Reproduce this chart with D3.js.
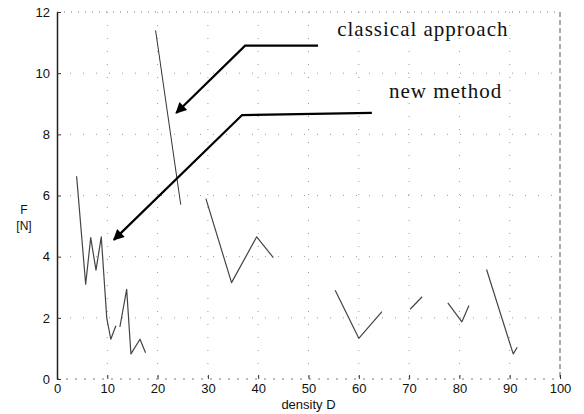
<!DOCTYPE html>
<html>
<head>
<meta charset="utf-8">
<script src="https://cdn.jsdelivr.net/npm/d3@7"></script>
<style>
  html, body { margin: 0; padding: 0; background: #fff; }
  svg { display: block; }
</style>
</head>
<body>
<svg id="chart" width="584" height="414"></svg>
<script>
/* F [N] against density D, classical approach vs new method */

const xTicks = [0, 10, 20, 30, 40, 50, 60, 70, 80, 90, 100];
const yTicks = [0, 2, 4, 6, 8, 10, 12];

// classical approach: one steep segment
const classicalD = [19.6, 24.6];
const classicalF = [11.4, 5.7];

// new method: broken trace (null = gap in the scan)
const newD = [3.9, 5.7, 6.7, 7.75, 8.8, 9.9, 10.7, 11.7, null,
              12.5, 13.85, 14.7, 16.5, 17.6, null,
              29.6, 34.7, 39.7, 43.0, null,
              55.3, 60.0, 64.6, null,
              70.2, 72.6, null,
              77.7, 80.5, 81.9, null,
              85.4, 90.7, 91.5];
const newF = [6.63, 3.1, 4.62, 3.56, 4.65, 1.98, 1.3, 1.74, null,
              1.7, 2.93, 0.82, 1.3, 0.86, null,
              5.9, 3.15, 4.65, 3.97, null,
              2.9, 1.33, 2.2, null,
              2.28, 2.69, null,
              2.49, 1.87, 2.4, null,
              3.58, 0.82, 1.04];

// annotation arrows (data units): end, elbow, tip
const arrowClassical = [[51.9, 10.9], [37.4, 10.9], [23.7, 8.7]];
const arrowNew = [[62.6, 8.7], [36.8, 8.63], [11.3, 4.55]];
const labels = [
  { text: "classical approach", d: 55.7, f: 11.2 },
  { text: "new method", d: 66.0, f: 9.2 }
];

const svg = d3.select("#chart");
const x = d3.scaleLinear().domain([0, 100]).range([57, 560]);
const y = d3.scaleLinear().domain([0, 12]).range([379, 12]);

const defs = svg.append("defs");
defs.append("marker")
  .attr("id", "head")
  .attr("viewBox", "0 0 10 10")
  .attr("refX", 9).attr("refY", 5)
  .attr("markerWidth", 5.5).attr("markerHeight", 5)
  .attr("markerUnits", "strokeWidth")
  .attr("orient", "auto")
  .append("path")
  .attr("d", "M0,0 L10,5 L0,10 z")
  .attr("fill", "#000");

// dotted grid
const grid = svg.append("g").attr("stroke", "#9a9a9a").attr("stroke-width", 1)
  .attr("stroke-dasharray", "1,12");
grid.selectAll(".gx").data(xTicks.slice(1, -1)).enter().append("line")
  .attr("x1", d => x(d)).attr("x2", d => x(d))
  .attr("y1", y(12)).attr("y2", y(0));
grid.selectAll(".gy").data(yTicks.slice(1, -1)).enter().append("line")
  .attr("x1", x(0)).attr("x2", x(100))
  .attr("y1", d => y(d)).attr("y2", d => y(d));

// frame: top and bottom dotted, right dashed, left solid
svg.append("line").attr("x1", x(0)).attr("x2", x(100)).attr("y1", y(12)).attr("y2", y(12))
  .attr("stroke", "#777").attr("stroke-dasharray", "1,6");
svg.append("line").attr("x1", x(0)).attr("x2", x(100)).attr("y1", y(0)).attr("y2", y(0))
  .attr("stroke", "#777").attr("stroke-dasharray", "2,7");
svg.append("line").attr("x1", x(100)).attr("x2", x(100)).attr("y1", y(12)).attr("y2", y(0))
  .attr("stroke", "#555").attr("stroke-dasharray", "5,3");

const axisFont = "'Liberation Sans', Arial, sans-serif";

const gx = svg.append("g")
  .attr("transform", `translate(0,${y(0)})`)
  .call(d3.axisBottom(x).tickValues(xTicks).tickSize(-4).tickPadding(5).tickSizeOuter(0));
gx.select(".domain").remove();
gx.selectAll("line").attr("stroke", "#333");
gx.selectAll("text").attr("fill", "#111").style("font-family", axisFont).style("font-size", "13px");

const gy = svg.append("g")
  .attr("transform", `translate(${x(0)},0)`)
  .call(d3.axisLeft(y).tickValues(yTicks).tickSize(-4).tickPadding(7).tickSizeOuter(0));
gy.select(".domain").attr("stroke", "#222").attr("stroke-width", 1.5);
gy.selectAll("line").attr("stroke", "#333");
gy.selectAll("text").attr("fill", "#111").style("font-family", axisFont).style("font-size", "13px");

// axis titles
svg.append("text").attr("x", x(50)).attr("y", 409).attr("text-anchor", "middle")
  .style("font-family", axisFont).style("font-size", "13px").attr("fill", "#111")
  .text("density D");
svg.append("text").attr("x", 24).attr("y", 214).attr("text-anchor", "middle")
  .style("font-family", axisFont).style("font-size", "12px").attr("fill", "#111")
  .text("F");
svg.append("text").attr("x", 24).attr("y", 230).attr("text-anchor", "middle")
  .style("font-family", axisFont).style("font-size", "12px").attr("fill", "#111")
  .text("[N]");

// series
const line = d3.line()
  .defined(d => d[0] != null && d[1] != null)
  .x(d => x(d[0])).y(d => y(d[1]));

svg.append("path")
  .datum(classicalD.map((d, i) => [d, classicalF[i]]))
  .attr("d", line).attr("fill", "none")
  .attr("stroke", "#333").attr("stroke-width", 1);

svg.append("path")
  .datum(newD.map((d, i) => [d, newF[i]]))
  .attr("d", line).attr("fill", "none")
  .attr("stroke", "#444").attr("stroke-width", 1.2)
  .attr("stroke-linejoin", "round");

// annotation arrows
const arrowLine = d3.line().x(d => x(d[0])).y(d => y(d[1]));
[arrowClassical, arrowNew].forEach(pts => {
  svg.append("path")
    .datum(pts)
    .attr("d", arrowLine).attr("fill", "none")
    .attr("stroke", "#000").attr("stroke-width", 2.2)
    .attr("marker-end", "url(#head)");
});

svg.selectAll(".lbl").data(labels).enter().append("text")
  .attr("x", d => x(d.d)).attr("y", d => y(d.f))
  .style("font-family", "'Liberation Serif', 'Times New Roman', serif")
  .style("font-size", "21px").style("letter-spacing", "1px").attr("fill", "#111")
  .text(d => d.text);
</script>
</body>
</html>
